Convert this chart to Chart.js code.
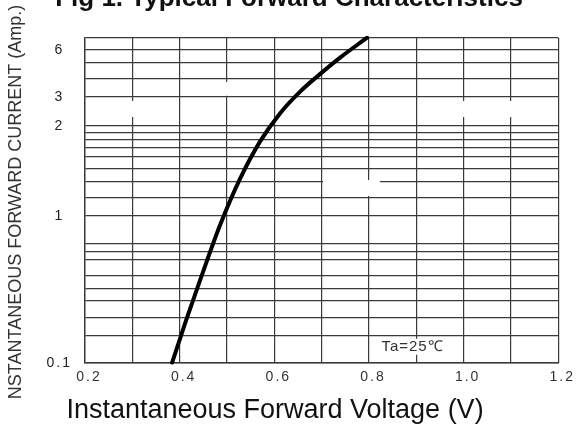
<!DOCTYPE html>
<html>
<head>
<meta charset="utf-8">
<script src="https://cdn.jsdelivr.net/npm/chart.js@4.4.1/dist/chart.umd.min.js"></script>
<style>
  html, body { margin: 0; padding: 0; background: #fff; }
</style>
</head>
<body>
<canvas id="fwdChart" width="577" height="433"></canvas>
<script>
// Fig 1 - typical forward characteristics
const voltage = [0.384, 0.413, 0.443, 0.485, 0.528, 0.570, 0.612, 0.654, 0.697, 0.739, 0.796];
const current = [0.1, 0.279, 0.564, 0.966, 1.328, 1.677, 2.424, 3.261, 4.275, 5.382, 7];

// grid lines and their labels
const voltGrid = [0.2, 0.3, 0.4, 0.5, 0.6, 0.7, 0.8, 0.9, 1.0, 1.1, 1.2];
const voltLabels = ['0.2', '', '0.4', '', '0.6', '', '0.8', '', '1.0', '', '1.2'];
const currentGrid = [0.1, 0.2, 0.3, 0.4, 0.5, 0.6, 0.7, 0.8, 0.9, 1, 1.2, 1.3, 1.4, 1.5, 1.6, 1.7, 1.8, 2, 3, 4, 5, 6, 7];
const currentLabels = ['0.1', '', '', '', '', '', '', '', '', '1', '', '', '', '', '', '', '', '2', '3', '', '', '6', ''];

const figTitle = 'Fig 1. Typical Forward Characteristics';
const xTitle = 'Instantaneous Forward Voltage (V)';
const yTitle = 'NSTANTANEOUS FORWARD CURRENT (Amp.)';
const tempNote = 'Ta=25\u2103';

const gridColour = '#3a3a3a';
const fontFamily = '"Liberation Sans", Arial, sans-serif';

// bits of grid that are blank on the scan
// vertical: [volts, amps from, amps to]   horizontal: [amps, volts from, volts to]
const gridGapsV = [[0.3, 2.3, 2.85], [1.0, 2.3, 2.85], [1.1, 2.3, 2.85], [0.5, 3.05, 3.8], [0.8, 1.21, 1.29]];
const gridGapsH = [[1.3, 0.703, 0.823]];

// the scanned sheet's current axis isn't a clean log scale, so each grid line
// gets its own place on the axis and values are interpolated between them
class SteppedGridScale extends Chart.LinearScale {
  determineDataLimits() {
    this.min = currentGrid[0];
    this.max = currentGrid[currentGrid.length - 1];
  }
  buildTicks() {
    return currentGrid.map(v => ({ value: v }));
  }
  _toDecimal(value) {
    const pos = this.options.gridPositions;
    if (value <= currentGrid[0]) return pos[0];
    for (let i = 1; i < currentGrid.length; i++) {
      if (value <= currentGrid[i]) {
        const t = (value - currentGrid[i - 1]) / (currentGrid[i] - currentGrid[i - 1]);
        return pos[i - 1] + t * (pos[i] - pos[i - 1]);
      }
    }
    return pos[pos.length - 1];
  }
  getPixelForValue(value) {
    return this.getPixelForDecimal(this._toDecimal(value));
  }
  getValueForPixel(pixel) {
    const d = this.getDecimalForPixel(pixel);
    const pos = this.options.gridPositions;
    for (let i = 1; i < pos.length; i++) {
      if (d <= pos[i]) {
        const t = (d - pos[i - 1]) / (pos[i] - pos[i - 1]);
        return currentGrid[i - 1] + t * (currentGrid[i] - currentGrid[i - 1]);
      }
    }
    return currentGrid[currentGrid.length - 1];
  }
}
SteppedGridScale.id = 'steppedGrid';
SteppedGridScale.defaults = Chart.LinearScale.defaults;
Chart.register(SteppedGridScale);

const figText = {
  id: 'figText',
  beforeDraw(chart) {
    // tick numbers on the sheet are spaced out a little
    chart.ctx.letterSpacing = '2px';
  },
  beforeDatasetsDraw(chart) {
    const ctx = chart.ctx;
    const xs = chart.scales.x, ys = chart.scales.y;
    ctx.save();
    ctx.fillStyle = '#fff';
    gridGapsV.forEach(([v, a, b]) => {
      const px = xs.getPixelForValue(v);
      const y1 = ys.getPixelForValue(b), y2 = ys.getPixelForValue(a);
      ctx.fillRect(px - 2, y1, 4, y2 - y1);
    });
    gridGapsH.forEach(([c, a, b]) => {
      const py = ys.getPixelForValue(c);
      const x1 = xs.getPixelForValue(a), x2 = xs.getPixelForValue(b);
      ctx.fillRect(x1, py - 2, x2 - x1, 4);
    });
    ctx.restore();
  },
  afterDraw(chart) {
    const ctx = chart.ctx;
    const xs = chart.scales.x, ys = chart.scales.y;
    ctx.save();

    // temperature note with a white box behind it
    ctx.font = '15px ' + fontFamily;
    ctx.letterSpacing = '1px';
    const nx = xs.getPixelForValue(0.892), ny = ys.getPixelForValue(0.159);
    const w = ctx.measureText(tempNote).width;
    ctx.fillStyle = '#fff';
    ctx.fillRect(nx - w / 2 - 3, ny - 8, w + 6, 16);
    ctx.fillStyle = '#333';
    ctx.textAlign = 'center';
    ctx.textBaseline = 'middle';
    ctx.fillText(tempNote, nx, ny);
    ctx.letterSpacing = '0px';

    ctx.fillStyle = '#111';
    ctx.textBaseline = 'alphabetic';
    ctx.font = 'bold 26px ' + fontFamily;
    ctx.fillText(figTitle, 289, 6);

    ctx.font = '27px ' + fontFamily;
    ctx.textBaseline = 'middle';
    ctx.fillText(xTitle, 275, 411);

    ctx.fillStyle = '#333';
    ctx.font = '18px ' + fontFamily;
    ctx.translate(16.5, 202);
    ctx.rotate(-Math.PI / 2);
    ctx.fillText(yTitle, 0, 0);
    ctx.restore();
    ctx.letterSpacing = '0px';
  }
};

new Chart(document.getElementById('fwdChart'), {
  type: 'line',
  data: {
    datasets: [{
      data: voltage.map((v, i) => ({ x: v, y: current[i] })),
      borderColor: '#000',
      borderWidth: 4,
      borderCapStyle: 'round',
      borderJoinStyle: 'round',
      pointRadius: 0,
      cubicInterpolationMode: 'monotone',
      fill: false
    }]
  },
  options: {
    responsive: false,
    animation: false,
    layout: { padding: { top: 37.7, right: 18.7, bottom: 0, left: 0 } },
    plugins: {
      legend: { display: false },
      tooltip: { enabled: false },
      title: { display: false }
    },
    scales: {
      x: {
        type: 'linear',
        min: 0.2,
        max: 1.2,
        afterBuildTicks: s => { s.ticks = voltGrid.map(v => ({ value: v })); },
        afterFit: s => { s.height = 70.3; },
        grid: { color: gridColour, lineWidth: 1.2, drawTicks: false },
        border: { color: gridColour, width: 1.4 },
        ticks: {
          autoSkip: false,
          maxRotation: 0,
          padding: 6,
          labelOffset: 4,
          color: '#333',
          font: { family: fontFamily, size: 14 },
          callback: (v, i) => voltLabels[i]
        }
      },
      y: {
        type: 'steppedGrid',
        gridPositions: [0, 0.0831, 0.1397, 0.1898, 0.2289, 0.2668, 0.3182, 0.3415, 0.3652, 0.4514,
          0.5083, 0.556, 0.596, 0.6329, 0.6615, 0.6868, 0.7077, 0.7292, 0.8185, 0.8751, 0.9243, 0.9622, 1],
        afterFit: s => { s.width = 85; },
        grid: { color: gridColour, lineWidth: 1.2, drawTicks: false },
        border: { color: gridColour, width: 1.4 },
        ticks: {
          autoSkip: false,
          padding: 16,
          crossAlign: 'center',
          color: '#222',
          font: { family: fontFamily, size: 14 },
          callback: (v, i) => currentLabels[i]
        }
      }
    }
  },
  plugins: [figText]
});
</script>
</body>
</html>
